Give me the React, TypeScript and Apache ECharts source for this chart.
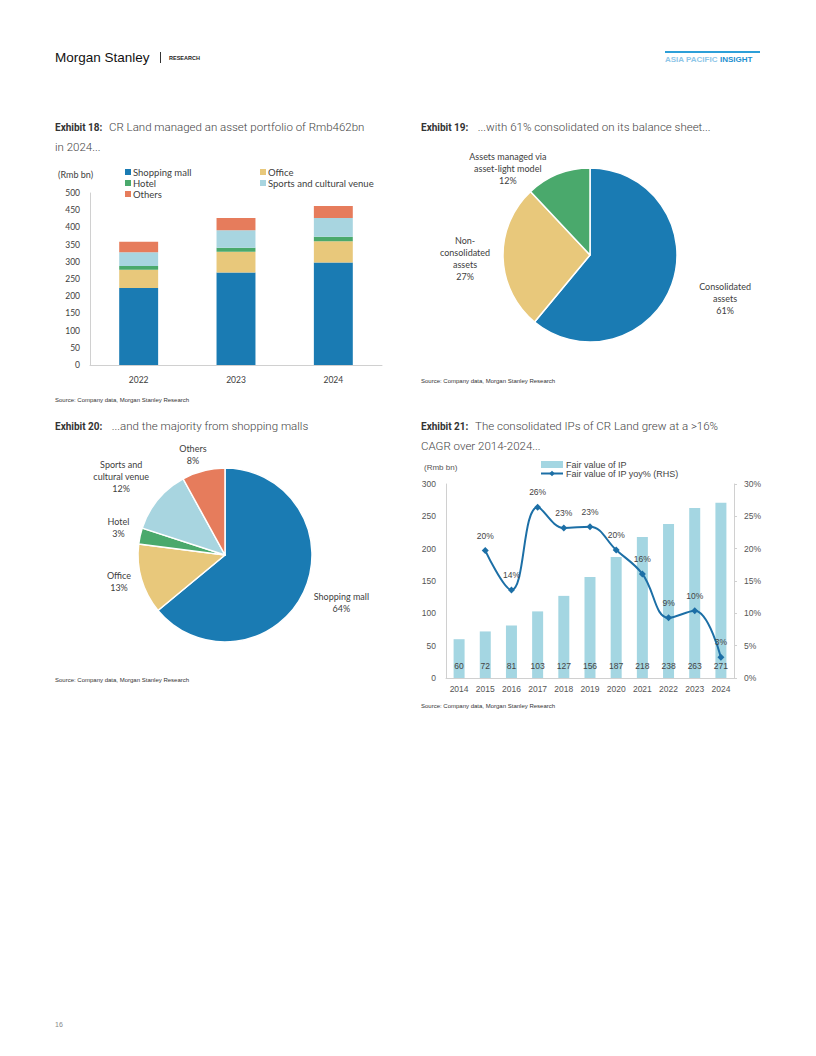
import React, { useEffect, useRef } from "react";
import * as echarts from "echarts";

// Exhibit 18
const years18 = ["2022", "2023", "2024"];
const mall18 = [224, 269, 298];
const office18 = [53, 60, 62];
const hotel18 = [11, 12, 13];
const sports18 = [40, 51, 54];
const others18 = [30, 35, 35];

// Exhibit 19
const names19 = ["Consolidated\nassets", "Non-\nconsolidated\nassets", "Assets managed via\nasset-light model"];
const values19 = [61, 27, 12];

// Exhibit 20
const names20 = ["Shopping mall", "Office", "Hotel", "Sports and\ncultural venue", "Others"];
const values20 = [64, 13, 3, 12, 8];

// Exhibit 21
const years21 = ["2014", "2015", "2016", "2017", "2018", "2019", "2020", "2021", "2022", "2023", "2024"];
const fairValue21 = [60, 72, 81, 103, 127, 156, 187, 218, 238, 263, 271];
const yoy21: (number | null)[] = [null, 19.7, 13.6, 26.4, 23.2, 23.4, 19.8, 16.1, 9.3, 10.4, 3.2];

const C_MALL = "#1a7bb3";
const C_OFFICE = "#e8c87b";
const C_HOTEL = "#4aa96c";
const C_SPORTS = "#a8d5e0";
const C_OTHERS = "#e67c5c";
const C_BAR21 = "#a4d6e2";
const C_LINE21 = "#1c6fa6";

const CAL = "Lato";
const ARIAL = "Liberation Sans";
const TXT = "#404040";

// label nudges (dx, dy) for pie labels, centred text
const nudge19 = [[35, 9], [-19, 0], [-40, 7]];
const nudge20 = [[20, 4], [-4, -2], [-3, -5], [-21, -14], [-2, -3]];

function title(x: number, y: number, bold: string, rest: string) {
  return {
    type: "text",
    left: x,
    top: y,
    style: {
      text: `{b|${bold}}  {r|${rest}}`,
      rich: {
        b: { fontFamily: "Roboto", fontWeight: "bold", fontSize: 10, fill: "#333" },
        r: { fontFamily: "Roboto", fontSize: 11.5, fill: "#444", fontWeight: 300 },
      },
    },
  };
}

function source(x: number, y: number) {
  return {
    type: "text",
    left: x,
    top: y,
    style: {
      text: "Source: Company data, Morgan Stanley Research",
      fontFamily: ARIAL,
      fontSize: 6,
      fill: "#333",
    },
  };
}

export default function App() {
  const ref = useRef<HTMLDivElement>(null);
  useEffect(() => {
    if (!ref.current) return;
    const chart = echarts.init(ref.current, null, { renderer: "svg" });
    const stackBar = (name: string, data: number[], color: string) => ({
      name,
      type: "bar",
      stack: "s18",
      xAxisIndex: 0,
      yAxisIndex: 0,
      barWidth: "40%",
      data,
      itemStyle: { color },
    });
    const pieLabel = {
      show: true,
      position: "outside",
      fontFamily: CAL,
      fontSize: 9,
      color: TXT,
      lineHeight: 12,
      formatter: (p: any) => `${p.name}\n${p.value}%`,
    };
    const option: any = {
      animation: false,
      backgroundColor: "#fff",
      graphic: [
        {
          type: "text",
          left: 55,
          top: 50,
          style: { text: "Morgan Stanley", fontFamily: ARIAL, fontSize: 13.5, fill: "#111" },
        },
        { type: "rect", shape: { x: 160, y: 52, width: 1, height: 11 }, style: { fill: "#333" } },
        {
          type: "text",
          left: 169,
          top: 55,
          style: { text: "RESEARCH", fontFamily: ARIAL, fontSize: 5.5, fontWeight: "bold", fill: "#222" },
        },
        { type: "rect", shape: { x: 665, y: 51, width: 95, height: 2 }, style: { fill: "#2d9fd8" } },
        {
          type: "text",
          left: 665,
          top: 55,
          style: {
            text: "{a|ASIA PACIFIC }{b|INSIGHT}",
            rich: {
              a: { fontFamily: ARIAL, fontSize: 8, fontWeight: "bold", fill: "#8ec6e8" },
              b: { fontFamily: ARIAL, fontSize: 8, fontWeight: "bold", fill: "#1c8fd0" },
            },
          },
        },
        title(55, 121, "Exhibit 18:", "CR Land managed an asset portfolio of Rmb462bn"),
        {
          type: "text",
          left: 55,
          top: 141,
          style: { text: "in 2024...", fontFamily: "Roboto", fontSize: 11.5, fill: "#444", fontWeight: 300 },
        },
        {
          type: "text",
          left: 58,
          top: 170,
          style: { text: "(Rmb bn)", fontFamily: CAL, fontSize: 9, fill: TXT },
        },
        source(55, 397),
        title(421, 121, "Exhibit 19:", " ...with 61% consolidated on its balance sheet..."),
        source(421, 378),
        title(55, 420, "Exhibit 20:", " ...and the majority from shopping malls"),
        source(55, 677),
        title(421, 420, "Exhibit 21:", "The consolidated IPs of CR Land grew at a >16%"),
        {
          type: "text",
          left: 421,
          top: 440,
          style: { text: "CAGR over 2014-2024...", fontFamily: "Roboto", fontSize: 11.5, fill: "#444", fontWeight: 300 },
        },
        {
          type: "text",
          left: 424,
          top: 463,
          style: { text: "(Rmb bn)", fontFamily: ARIAL, fontSize: 8, fill: "#555" },
        },
        source(421, 703),
        {
          type: "text",
          left: 55,
          top: 1021,
          style: { text: "16", fontFamily: ARIAL, fontSize: 7, fill: "#888" },
        },
      ],
      legend: [
        {
          orient: "vertical",
          left: 120,
          top: 162,
          itemWidth: 6,
          itemHeight: 6,
          itemGap: 1,
          icon: "rect",
          textStyle: { fontFamily: CAL, fontSize: 9.5, color: TXT, padding: [0, 0, 0, -3] },
          data: ["Shopping mall", "Hotel", "Others"],
          selectedMode: false,
        },
        {
          orient: "vertical",
          left: 255,
          top: 162,
          itemWidth: 6,
          itemHeight: 6,
          itemGap: 1,
          icon: "rect",
          textStyle: { fontFamily: CAL, fontSize: 9.5, color: TXT, padding: [0, 0, 0, -3] },
          data: ["Office", "Sports and cultural venue"],
          selectedMode: false,
        },
        {
          orient: "vertical",
          left: 535,
          top: 455,
          itemWidth: 22,
          itemHeight: 7,
          itemGap: 0,
          textStyle: { fontFamily: ARIAL, fontSize: 9, color: "#444", padding: [0, 0, 0, -2] },
          data: [
            { name: "Fair value of IP", icon: "rect" },
            { name: "Fair value of IP yoy% (RHS)" },
          ],
          selectedMode: false,
        },
      ],
      grid: [
        { left: 90, top: 193, width: 292, height: 172 },
        { left: 446, top: 484, width: 288, height: 194 },
      ],
      xAxis: [
        {
          type: "category",
          gridIndex: 0,
          data: years18,
          axisLine: { lineStyle: { color: "#d0d0d0" } },
          axisTick: { show: false },
          axisLabel: { fontFamily: CAL, fontSize: 8.5, color: TXT, margin: 10 },
        },
        {
          type: "category",
          gridIndex: 1,
          data: years21,
          axisLine: { lineStyle: { color: "#d0d0d0" } },
          axisTick: { show: false },
          axisLabel: { fontFamily: ARIAL, fontSize: 8.5, color: "#555", margin: 6, interval: 0 },
        },
      ],
      yAxis: [
        {
          type: "value",
          gridIndex: 0,
          min: 0,
          max: 500,
          interval: 50,
          axisLine: { show: true, lineStyle: { color: "#d0d0d0" } },
          axisTick: { show: false },
          splitLine: { show: false },
          axisLabel: { fontFamily: CAL, fontSize: 8.5, color: TXT, margin: 10 },
        },
        {
          type: "value",
          gridIndex: 1,
          min: 0,
          max: 300,
          interval: 50,
          axisLine: { show: true, lineStyle: { color: "#d0d0d0" } },
          axisTick: { show: false },
          splitLine: { show: false },
          axisLabel: { fontFamily: ARIAL, fontSize: 8.5, color: "#555", margin: 10 },
        },
        {
          type: "value",
          gridIndex: 1,
          position: "right",
          min: 0,
          max: 30,
          interval: 5,
          axisLine: { show: true, lineStyle: { color: "#d0d0d0" } },
          axisTick: { show: true, length: 3, lineStyle: { color: "#d0d0d0" } },
          splitLine: { show: false },
          axisLabel: { fontFamily: ARIAL, fontSize: 8.5, color: "#555", margin: 10, formatter: "{value}%" },
        },
      ],
      series: [
        stackBar("Shopping mall", mall18, C_MALL),
        stackBar("Office", office18, C_OFFICE),
        stackBar("Hotel", hotel18, C_HOTEL),
        stackBar("Sports and cultural venue", sports18, C_SPORTS),
        stackBar("Others", others18, C_OTHERS),
        {
          type: "pie",
          name: "ex19",
          center: [590, 255],
          radius: 87,
          startAngle: 90,
          clockwise: true,
          label: pieLabel,
          labelLine: { show: false, length: 14, length2: 0 },
          labelLayout: (p: any) => ({ align: "center", dx: nudge19[p.dataIndex][0], dy: nudge19[p.dataIndex][1] }),
          itemStyle: { borderColor: "#fff", borderWidth: 1.5 },
          data: names19.map((n, i) => ({
            name: n,
            value: values19[i],
            itemStyle: { color: [C_MALL, C_OFFICE, C_HOTEL][i] },
          })),
        },
        {
          type: "pie",
          name: "ex20",
          center: [225, 555],
          radius: 87,
          startAngle: 90,
          clockwise: true,
          label: pieLabel,
          labelLine: { show: false, length: 14, length2: 0 },
          labelLayout: (p: any) => ({ align: "center", dx: nudge20[p.dataIndex][0], dy: nudge20[p.dataIndex][1] }),
          itemStyle: { borderColor: "#fff", borderWidth: 1.5 },
          data: names20.map((n, i) => ({
            name: n,
            value: values20[i],
            itemStyle: { color: [C_MALL, C_OFFICE, C_HOTEL, C_SPORTS, C_OTHERS][i] },
          })),
        },
        {
          name: "Fair value of IP",
          type: "bar",
          xAxisIndex: 1,
          yAxisIndex: 1,
          barWidth: "42%",
          data: fairValue21,
          itemStyle: { color: C_BAR21 },
          label: {
            show: true,
            position: "insideBottom",
            distance: 8,
            fontFamily: ARIAL,
            fontSize: 8.5,
            color: "#444",
          },
        },
        {
          name: "Fair value of IP yoy% (RHS)",
          type: "line",
          xAxisIndex: 1,
          yAxisIndex: 2,
          smooth: 0.4,
          symbol: "diamond",
          symbolSize: 7,
          data: yoy21,
          lineStyle: { color: C_LINE21, width: 2 },
          itemStyle: { color: C_LINE21 },
          label: {
            show: true,
            position: "top",
            distance: 7,
            fontFamily: ARIAL,
            fontSize: 8.5,
            color: "#444",
            formatter: (p: any) => `${Math.round(p.value)}%`,
          },
        },
      ],
    };
    chart.setOption(option);
    return () => chart.dispose();
  }, []);
  return (
    <div
      ref={ref}
      style={{ position: "absolute", left: 0, top: 0, width: 816, height: 1056, background: "#fff" }}
    />
  );
}
